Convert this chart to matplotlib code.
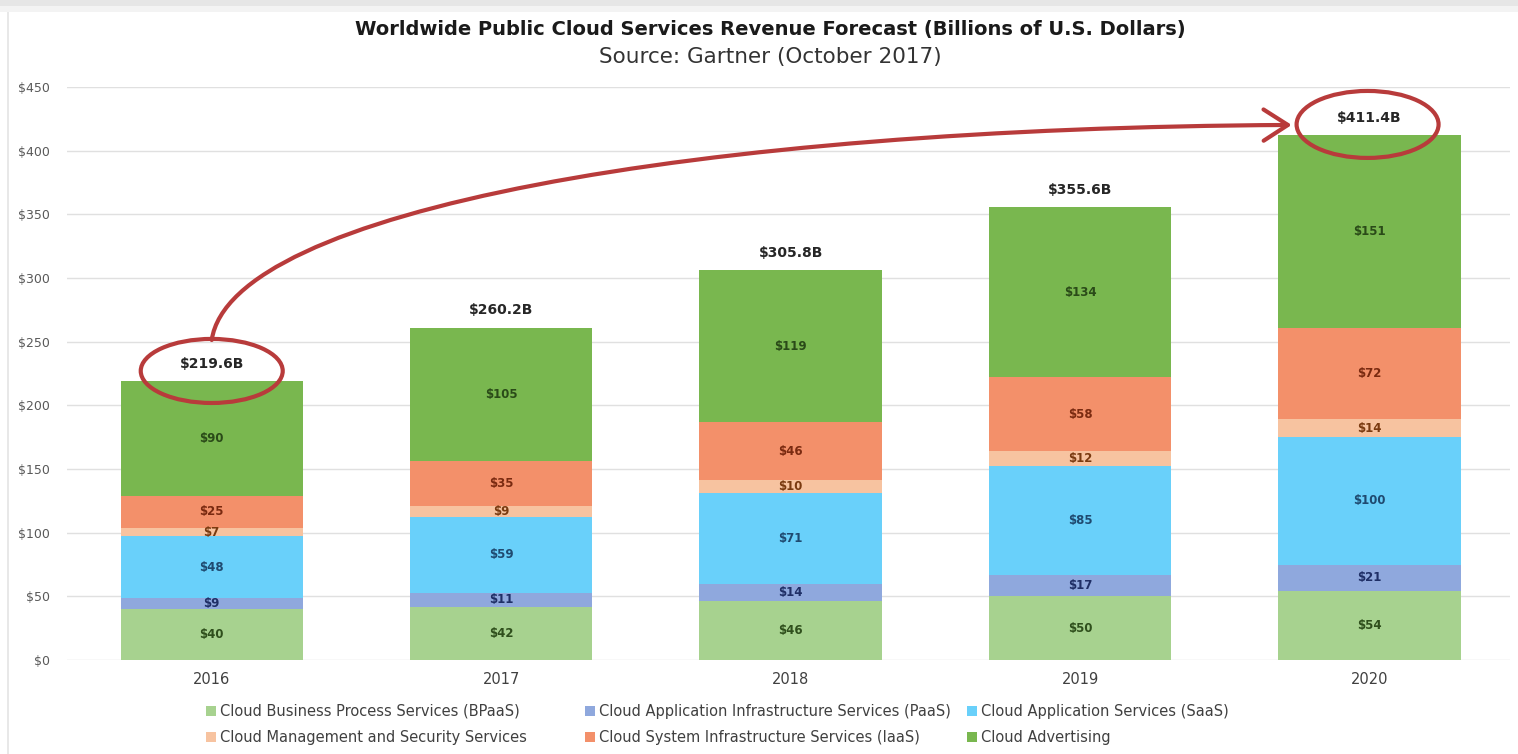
import matplotlib
matplotlib.use("Agg")
import matplotlib.pyplot as plt
from matplotlib.patches import Ellipse, FancyArrowPatch, Rectangle
from matplotlib.path import Path
import numpy as np

plt.rcParams['font.family'] = ['DejaVu Sans']

# ---- data ----
years = ["2016", "2017", "2018", "2019", "2020"]
series_names = [
    "Cloud Business Process Services (BPaaS)",
    "Cloud Application Infrastructure Services (PaaS)",
    "Cloud Application Services (SaaS)",
    "Cloud Management and Security Services",
    "Cloud System Infrastructure Services (IaaS)",
    "Cloud Advertising",
]
bpaas = [40, 42, 46, 50, 54]
paas = [9, 11, 14, 17, 21]
saas = [48, 59, 71, 85, 100]
mgmt = [7, 9, 10, 12, 14]
iaas = [25, 35, 46, 58, 72]
advertising = [90, 105, 119, 134, 151]
totals = [219.6, 260.2, 305.8, 355.6, 411.4]
yticks = [0, 50, 100, 150, 200, 250, 300, 350, 400, 450]

series = [bpaas, paas, saas, mgmt, iaas, advertising]
fills = ["#a7d28f", "#8fa8dd", "#69d0fa", "#f7c3a0", "#f3906a", "#79b74f"]
txtcols = ["#2f4f1c", "#1f2f66", "#1f4a70", "#7a3a10", "#7a2a10", "#2a4a18"]

W, H = 1518, 754
fig = plt.figure(figsize=(W / 100, H / 100), dpi=100)
fig.patch.set_facecolor("white")

# frame shading of the screenshot
fig.add_artist(Rectangle((0, 1 - 6 / H), 1, 6 / H, transform=fig.transFigure,
                         facecolor="#e6e6e6", edgecolor="none"))
fig.add_artist(Rectangle((0, 1 - 12 / H), 1, 6 / H, transform=fig.transFigure,
                         facecolor="#f3f3f3", edgecolor="none"))
fig.add_artist(Rectangle((7 / W, 0), 2 / W, 1 - 12 / H, transform=fig.transFigure,
                         facecolor="#e8e8e8", edgecolor="none"))

ax = fig.add_axes([67 / W, (754 - 660) / H, (1510 - 67) / W, 573 / H])
x = np.arange(len(years))
width = 0.63
bottom = np.zeros(len(years))
handles = []
for vals, fc, tc, name in zip(series, fills, txtcols, series_names):
    vals = np.array(vals, dtype=float)
    b = ax.bar(x, vals, width, bottom=bottom, color=fc, edgecolor="none",
               label=name, zorder=2)
    handles.append(b)
    for xi, v, bt in zip(x, vals, bottom):
        ax.text(xi, bt + v / 2, f"${v:.0f}", ha="center", va="center",
                fontsize=8.5, fontweight="bold", color=tc, zorder=3)
    bottom += vals

for xi, t, top in zip(x, totals, bottom):
    ax.text(xi, top + 8, f"${t:.1f}B", ha="center", va="bottom",
            fontsize=10, fontweight="bold", color="#262626", zorder=3)

ax.set_xlim(-0.5, 4.485)
ax.set_ylim(0, 450)
ax.set_yticks(yticks)
ax.set_yticklabels([f"${v}" for v in yticks], fontsize=9, color="#595959")
ax.set_xticks(x)
ax.set_xticklabels(years, fontsize=10.5, color="#404040")
ax.tick_params(axis="both", length=0)
ax.tick_params(axis="y", pad=12)
ax.tick_params(axis="x", pad=9)
ax.grid(axis="y", color="#e0e0e0", linewidth=1, zorder=0)
ax.set_axisbelow(True)
for s in ax.spines.values():
    s.set_visible(False)

# title
fig.text(770 / W, 1 - 30 / H, "Worldwide Public Cloud Services Revenue Forecast (Billions of U.S. Dollars)",
         ha="center", va="center", fontsize=14, fontweight="bold", color="#1a1a1a")
fig.text(770 / W, 1 - 57 / H, "Source: Gartner (October 2017)",
         ha="center", va="center", fontsize=15.5, color="#333333")

# legend: three columns of two entries (row-major order as in the reference)
col_x = [206, 585, 967]
col_items = [[0, 3], [1, 4], [2, 5]]
for cx, items in zip(col_x, col_items):
    fig.legend([handles[i] for i in items], [series_names[i] for i in items],
               loc="upper left", bbox_to_anchor=(cx / W, 1 - 704 / H),
               frameon=False, fontsize=10.5, handlelength=0.7, handleheight=0.7,
               handletextpad=0.25, labelspacing=0.75, borderpad=0,
               borderaxespad=0, labelcolor="#404040")

# annotations: red ellipses and curved arrow
red = "#b83b3b"
ax.add_patch(Ellipse((0.0, 227.0), 0.4905, 50.3, fill=False, edgecolor=red,
                     linewidth=3, clip_on=False, zorder=4))
ax.add_patch(Ellipse((3.993, 420.6), 0.4905, 52.6, fill=False, edgecolor=red,
                     linewidth=3, clip_on=False, zorder=4))
verts = [(0.0, 251.3), (0.0656, 353.4), (1.682, 417.8), (3.731, 420.2)]
path = Path(verts, [Path.MOVETO, Path.CURVE4, Path.CURVE4, Path.CURVE4])
arrow = FancyArrowPatch(path=path, arrowstyle="->,head_length=0.7,head_width=0.45",
                        mutation_scale=25, color=red, linewidth=3,
                        clip_on=False, zorder=4, shrinkA=0, shrinkB=0)
ax.add_patch(arrow)

fig.savefig("out.png", dpi=100)
